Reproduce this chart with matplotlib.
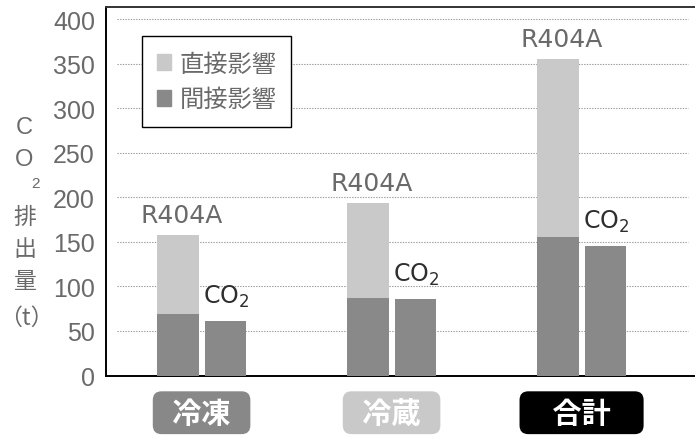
import matplotlib
matplotlib.use('Agg')
import matplotlib.pyplot as plt
from matplotlib.patches import Patch
import numpy as np

categories = ['冷凍', '冷蔵', '合計']
r404a_indirect = [69, 87, 156]
r404a_direct = [89, 107, 200]
co2_indirect = [61, 86, 146]
yticks = [0, 50, 100, 150, 200, 250, 300, 350, 400]
legend_labels = ['直接影響', '間接影響']
bar_names = ['R404A', 'CO$_2$']
cat_box_colors = ['#888888', '#c8c9c8', '#000000']
cat_pads = ['  ', '  ', '    ']

LIGHT = '#c8c9c8'
DARK = '#898989'
GRAY_TXT = '#6a6a6a'
JP = ['Noto Sans CJK JP', 'DejaVu Sans']

plt.rcParams['mathtext.default'] = 'regular'

fig = plt.figure(figsize=(6.95, 4.39), dpi=100)
ax = fig.add_axes([106/695, 62.5/439, 589/695, 368.5/439])

x = np.arange(len(categories))
w = 0.218
off = 0.125
tot = [a + b for a, b in zip(r404a_indirect, r404a_direct)]
ax.bar(x - off, r404a_indirect, w, color=DARK, zorder=3)
ax.bar(x - off, r404a_direct, w, bottom=r404a_indirect, color=LIGHT, zorder=3)
ax.bar(x + off, co2_indirect, w, color=DARK, zorder=3)

ax.set_xlim(-0.503, 2.597)
ax.set_ylim(0, 414)

for yv in yticks[1:]:
    ax.axhline(yv, xmin=0.019, xmax=0.988, color='#9a9a9a', lw=0.8,
               ls=(0, (1.2, 1.2)), zorder=1)

ax.spines['right'].set_visible(False)
ax.spines['left'].set_linewidth(1.4)
ax.spines['bottom'].set_linewidth(1.4)
ax.spines['top'].set_linewidth(1.4)
ax.spines['top'].set_color('#333333')

ax.set_yticks(yticks)
ax.set_yticklabels([str(v) for v in yticks], fontsize=18,
                   family=['Liberation Sans', 'DejaVu Sans'], color=GRAY_TXT)
ax.tick_params(axis='y', length=0, pad=8)

ax.set_xticks(x)
ax.set_xticklabels([p + c + p for c, p in zip(categories, cat_pads)],
                   fontsize=21, family=JP, weight='bold', color='white')
ax.tick_params(axis='x', length=0, pad=16)
for lab, col in zip(ax.get_xticklabels(), cat_box_colors):
    lab.set_bbox(dict(boxstyle='round,pad=0.22,rounding_size=0.3', fc=col, ec='none'))

for i in range(len(categories)):
    ax.annotate(bar_names[0], (x[i] - off, tot[i]), xytext=(4, 13),
                textcoords='offset pixels', ha='center', va='baseline',
                fontsize=18, color=GRAY_TXT, family='DejaVu Sans')
    ax.annotate(bar_names[1], (x[i] + off, co2_indirect[i]), xytext=(1, 18),
                textcoords='offset pixels', ha='center', va='baseline',
                fontsize=17, color='#2e2e2e', family='DejaVu Sans')

leg = ax.legend(handles=[Patch(color=LIGHT), Patch(color=DARK)], labels=legend_labels,
                loc='upper left', bbox_to_anchor=(0.0611, 0.921),
                prop=dict(family=JP, size=17.5), labelcolor=GRAY_TXT,
                frameon=True, fancybox=False, edgecolor='black', framealpha=1,
                handlelength=0.6, handleheight=0.6, handletextpad=0.35,
                borderpad=0.6, labelspacing=0.4, borderaxespad=0)
leg.get_frame().set_linewidth(1.0)

# vertical y-axis label
ylab = [('C', 24, 128, 17, ['Liberation Sans', 'DejaVu Sans']),
        ('O', 24, 160, 17, ['Liberation Sans', 'DejaVu Sans']),
        ('2', 36, 184, 11, ['Liberation Sans', 'DejaVu Sans']),
        ('排', 25, 218, 16.5, JP),
        ('出', 25, 250, 16.5, JP),
        ('量', 25, 281, 16.5, JP),
        ('（t）', 26, 318, 16.5, JP)]
for s, px, py, fs, fam in ylab:
    fig.text(px/695, 1 - py/439, s, ha='center', va='center', fontsize=fs,
             family=fam, color=GRAY_TXT)

fig.savefig('out.png', dpi=100)
